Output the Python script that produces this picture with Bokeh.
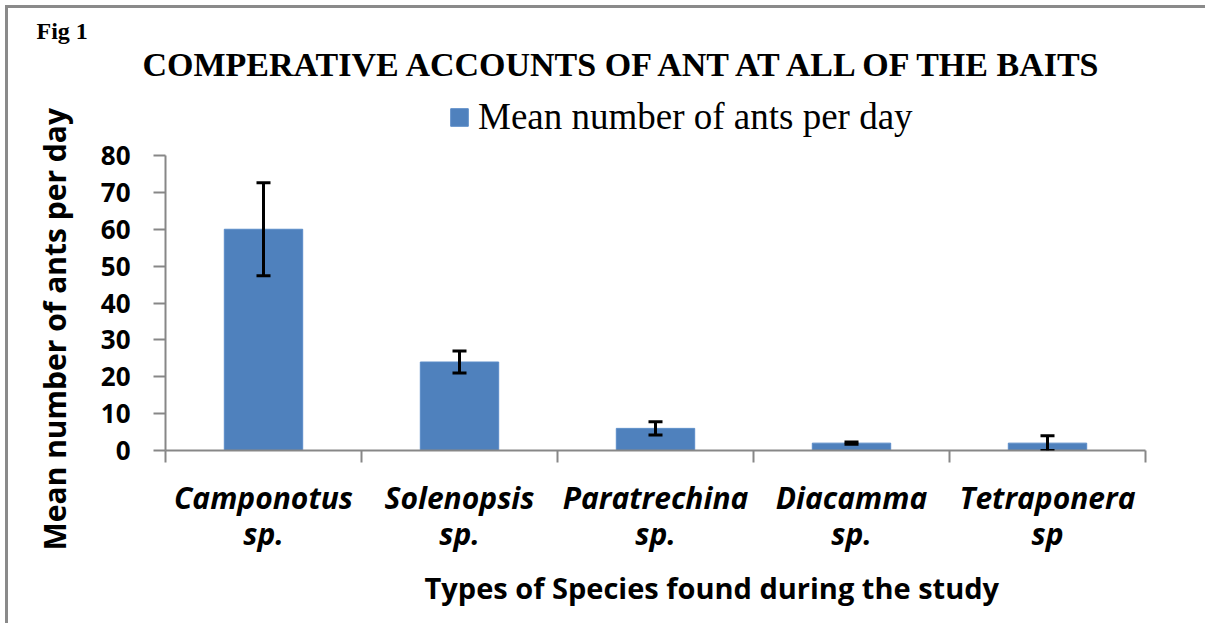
from bokeh.plotting import figure
from bokeh.models import (ColumnDataSource, FixedTicker, Whisker, TeeHead, Title,
                          Legend, LegendItem, LinearAxis)
from bokeh.embed import file_html
from bokeh.resources import INLINE

genus = ["Camponotus", "Solenopsis", "Paratrechina", "Diacamma", "Tetraponera"]
suffix = ["sp.", "sp.", "sp.", "sp.", "sp"]
mean_ants = [60.0, 24.0, 6.0, 2.0, 2.0]
error = [12.6, 3.0, 1.8, 0.3, 2.0]
y_ticks = [0, 10, 20, 30, 40, 50, 60, 70, 80]

xpos = [i + 0.5 for i in range(len(genus))]
src = ColumnDataSource(dict(
    x=xpos, top=mean_ants,
    upper=[m + e for m, e in zip(mean_ants, error)],
    lower=[m - e for m, e in zip(mean_ants, error)],
))

W, H = 1200, 618
p = figure(width=W, height=H, output_backend="svg", toolbar_location=None,
           x_range=(0, len(genus)), y_range=(0, 99.8),
           min_border_left=157, min_border_right=63, min_border_top=74, min_border_bottom=176)
p.outline_line_color = None
p.xgrid.visible = False
p.ygrid.visible = False
p.styles = {"border-top": "3px solid #8a8a8a", "border-left": "3px solid #8a8a8a",
            "margin-top": "5px", "margin-left": "5px"}

bars = p.vbar(x="x", top="top", width=0.4, bottom=0, source=src,
              fill_color="#4F81BD", line_color="#5B8CC8", line_width=1)

wh = Whisker(base="x", upper="upper", lower="lower", source=src, level="overlay",
             line_color="black", line_width=3,
             upper_head=TeeHead(size=14, line_color="black", line_width=3),
             lower_head=TeeHead(size=14, line_color="black", line_width=3))
p.add_layout(wh)

axis_color = "#878787"
ya = p.yaxis[0]
ya.ticker = FixedTicker(ticks=y_ticks)
ya.bounds = (0, 80)
ya.axis_line_color = axis_color
ya.axis_line_width = 2
ya.major_tick_line_color = axis_color
ya.major_tick_line_width = 2
ya.major_tick_out = 12
ya.major_tick_in = 0
ya.minor_tick_line_color = None
ya.major_label_text_font = "Open Sans"
ya.major_label_text_font_style = "bold"
ya.major_label_text_font_size = "26px"
ya.major_label_text_color = "black"
ya.major_label_standoff = 23

# first category line (genus) on the main x axis, boundary ticks as minor ticks
xa = p.xaxis[0]
xa.ticker = FixedTicker(ticks=xpos, minor_ticks=list(range(len(genus) + 1)))
xa.major_label_overrides = {x: s for x, s in zip(xpos, genus)}
xa.axis_line_color = axis_color
xa.axis_line_width = 2
xa.major_tick_line_color = None
xa.major_tick_out = 0
xa.major_tick_in = 0
xa.minor_tick_line_color = axis_color
xa.minor_tick_line_width = 2
xa.minor_tick_out = 12
xa.minor_tick_in = 0
xa.major_label_text_font = "Open Sans"
xa.major_label_text_font_style = "bold italic"
xa.major_label_text_font_size = "30px"
xa.major_label_text_color = "black"
xa.major_label_standoff = 14

# second category line ("sp.") on an extra axis below
xa2 = LinearAxis(ticker=FixedTicker(ticks=xpos),
                 major_label_overrides={x: s for x, s in zip(xpos, suffix)},
                 axis_line_color=None, major_tick_line_color=None,
                 minor_tick_line_color=None, major_tick_out=0, major_tick_in=0,
                 major_label_text_font="Open Sans", major_label_text_font_style="bold italic",
                 major_label_text_font_size="30px", major_label_text_color="black",
                 major_label_standoff=-8)
p.add_layout(xa2, "below")

# axis titles
p.add_layout(Title(text="Types of Species found during the study", align="left", offset=259,
                   text_font="Open Sans", text_font_style="bold", text_font_size="29px",
                   text_color="black", standoff=18), "below")
p.add_layout(Title(text="Mean number of ants per day", align="left", offset=-100,
                   text_font="Open Sans", text_font_style="bold", text_font_size="30px",
                   text_color="black", standoff=46), "left")

# legend inside the (extended) frame, above the 80 tick
legend = Legend(items=[LegendItem(label="Mean number of ants per day", renderers=[bars])],
                location=(283, 312), orientation="horizontal",
                label_text_font="Liberation Serif", label_text_font_size="37px",
                label_text_color="black", glyph_width=22, glyph_height=22,
                label_standoff=8, padding=0, margin=0, border_line_color=None,
                background_fill_alpha=0)
p.add_layout(legend)

p.add_layout(Title(text="COMPERATIVE ACCOUNTS OF ANT AT ALL OF THE BAITS", align="left",
                   offset=-23, text_font="Liberation Serif", text_font_style="bold",
                   text_font_size="34px", text_color="black", standoff=0), "above")
p.add_layout(Title(text="Fig 1", align="left", offset=-129,
                   text_font="Liberation Serif", text_font_style="bold",
                   text_font_size="24px", text_color="black", standoff=0), "above")

open("out.html", "w").write(file_html(p, INLINE))
